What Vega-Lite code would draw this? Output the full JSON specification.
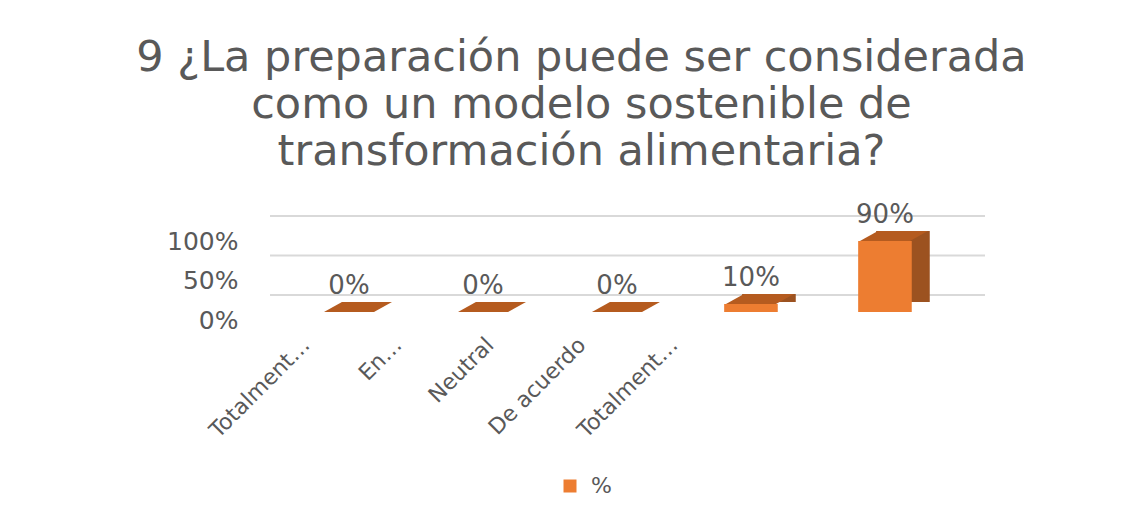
{
  "$schema": "https://vega.github.io/schema/vega-lite/v6.json",
  "width": 715,
  "height": 79,
  "autosize": {"type": "none"},
  "padding": {"left": 270, "top": 233, "right": 160, "bottom": 205},
  "background": "white",
  "config": {
    "view": {"stroke": null},
    "font": "DejaVu Sans",
    "axis": {"labelOverlap": false},
    "axisY": {"labelOverlap": false}
  },
  "title": {
    "text": ["9 ¿La preparación puede ser considerada", "como un modelo sostenible de", "transformación alimentaria?"],
    "font": "DejaVu Sans",
    "fontSize": 43,
    "fontWeight": "normal",
    "color": "#595959",
    "lineHeight": 47,
    "anchor": "middle",
    "frame": "group",
    "dx": -46,
    "offset": 28
  },
  "datasets": {
    "bars": [
      {"cat": "Totalmente en desacuerdo", "pct": 0, "serie": "%"},
      {"cat": "En desacuerdo", "pct": 0, "serie": "%"},
      {"cat": "Neutral", "pct": 0, "serie": "%"},
      {"cat": "De acuerdo", "pct": 0.1, "serie": "%"},
      {"cat": "Totalmente de acuerdo", "pct": 0.9, "serie": "%"}
    ],
    "grid": [{"v": 0}, {"v": 0.5}, {"v": 1}]
  },
  "layer": [
    {
      "data": {"name": "grid"},
      "mark": {"type": "rule", "color": "#D9D9D9", "strokeWidth": 2, "yOffset": -17},
      "encoding": {
        "y": {"field": "v", "type": "quantitative", "scale": {"domain": [0, 1], "nice": false},
          "axis": {"tickCount": 3, "format": ".0%", "title": null, "domain": false, "ticks": false, "grid": false, "labelOverlap": false,
            "labelFont": "DejaVu Sans", "labelFontSize": 25, "labelColor": "#595959", "labelPadding": 32, "labelOffset": 8}}
      }
    },
    {
      "data": {"name": "bars"},
      "mark": {"type": "bar", "color": "#9C5220", "xOffset": 18, "x2Offset": 18, "yOffset": -10, "y2Offset": -10},
      "encoding": {
        "x": {"field": "cat", "type": "nominal", "sort": null,
          "scale": {"paddingInner": 0.6, "paddingOuter": 0.468, "align": 0.416},
          "axis": {"title": null, "domain": false, "ticks": false, "labelAngle": -45, "labelFont": "DejaVu Sans", "labelFontSize": 22, "labelColor": "#595959",
            "labelPadding": 22, "labelLimit": 300,
            "labelExpr": "datum.label == 'En desacuerdo' ? 'En…' : (indexof(datum.label, 'Totalmente') == 0 ? 'Totalment…' : datum.label)",
            "labelOffset": {"expr": "-50 - 168*datum.index"}}},
        "y": {"field": "pct", "type": "quantitative"}
      }
    },
    {
      "data": {"name": "bars"},
      "mark": {"type": "bar"},
      "encoding": {
        "x": {"field": "cat", "type": "nominal", "sort": null},
        "y": {"field": "pct", "type": "quantitative"},
        "color": {"field": "serie", "type": "nominal", "scale": {"domain": ["%"], "range": ["#ED7D31"]},
          "legend": {"title": null, "orient": "none", "legendX": 289, "legendY": 242, "symbolType": "square", "symbolSize": 169, "symbolStrokeWidth": 0,
            "labelFont": "DejaVu Sans", "labelFontSize": 22, "labelColor": "#595959", "labelOffset": 10}}
      }
    },
    {
      "data": {"name": "bars"},
      "mark": {"type": "point", "filled": true, "color": "#B55B1F", "opacity": 1, "strokeWidth": 0,
        "shape": "M -1 0.147 L 0.471 0.147 L 1 -0.147 L -0.471 -0.147 Z", "size": 4624, "xOffset": 9, "yOffset": -5},
      "encoding": {
        "x": {"field": "cat", "type": "nominal", "sort": null},
        "y": {"field": "pct", "type": "quantitative"}
      }
    },
    {
      "data": {"name": "bars"},
      "mark": {"type": "text", "font": "DejaVu Sans", "fontSize": 26, "color": "#595959", "baseline": "middle", "dy": -26},
      "encoding": {
        "x": {"field": "cat", "type": "nominal", "sort": null},
        "y": {"field": "pct", "type": "quantitative"},
        "text": {"field": "pct", "type": "quantitative", "format": ".0%"}
      }
    }
  ]
}
